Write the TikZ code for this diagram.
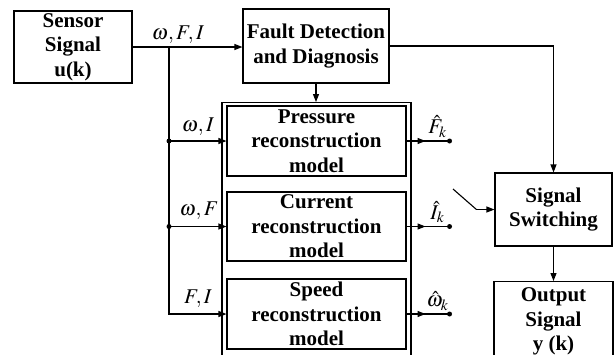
\documentclass[tikz,border=0pt]{standalone}
\usepackage{mathptmx}
\usepackage{fontspec}
\setmainfont{Liberation Serif}
\usetikzlibrary{arrows.meta}
\tikzset{
  blk/.style={draw, line width=1.1pt, inner sep=0pt, align=center,
    font=\fontsize{21}{24.5}\selectfont\bfseries},
  arr/.style={-{Triangle[length=8pt,width=6pt]}},
  lbl/.style={inner sep=1pt, font=\fontsize{21}{24}\selectfont},
  dot/.style={circle, fill, inner sep=0pt, minimum size=5pt},
}
\begin{document}
\begin{tikzpicture}[x=1pt, y=-1pt, line width=1.1pt]
\useasboundingbox (0,0) rectangle (616,354);
\clip (0,0) rectangle (616,354);

% blocks
\node[blk, minimum width=118pt, minimum height=72pt] (sensor) at (73,47) {Sensor\\Signal\\u(k)};
\node[blk, minimum width=146pt, minimum height=74pt] (fdd) at (316,46) {Fault Detection\\and Diagnosis};
\node[draw, line width=1.1pt, minimum width=189pt, minimum height=270pt, inner sep=0pt, anchor=north] (frame) at (316.5,102) {};
\node[blk, minimum width=179pt, minimum height=70pt] (press) at (316.5,141) {Pressure\\reconstruction\\model};
\node[blk, minimum width=179pt, minimum height=69pt] (curr) at (316.5,226.5) {Current\\reconstruction\\model};
\node[blk, minimum width=179pt, minimum height=70pt] (speed) at (316.5,314) {Speed\\reconstruction\\model};
\node[blk, minimum width=117pt, minimum height=73pt] (sw) at (553.5,209.5) {Signal\\Switching};
\node[blk, minimum width=119pt, minimum height=80pt, anchor=north] (out) at (553.5,281) {Output\\Signal\\y (k)};

% sensor signal distribution
\coordinate (j0) at (169,47);
\draw[arr] (sensor.east |- j0) -- (fdd.west |- j0);
\node[lbl, anchor=south] (l0) at (178,45) {$\omega,F,I$};
\draw[arr] (j0) |- (speed.west);
\coordinate (j1) at (j0 |- press.west);
\coordinate (j2) at (j0 |- curr.west);
\draw[arr] (j1) -- (press.west);
\draw[arr] (j2) -- (curr.west);
\node[dot] (d1) at (j1) {};
\node[dot] (d2) at (j2) {};
\node[lbl, anchor=south] (l1) at (198,137) {$\omega,I$};
\node[lbl, anchor=south] (l2) at (199,221) {$\omega,F$};
\node[lbl, anchor=south] (l3) at (198,309) {$F,I$};

% fault detection outputs
\draw[arr] (fdd.south) -- (fdd.south |- frame.north);
\draw[arr] (fdd.east) -| (sw.north);

% reconstructed signals
\foreach \b/\n/\t in {press/fo/{\hat{F}_k}, curr/io/{\hat{I}_k}, speed/wo/{\hat{\omega}_k}}{
  \coordinate (\n) at ([xshift=43pt]\b.east);
  \draw (\b.east) -- (\n);
  \draw[arr] (\b.east) -- ++(19,0);
  \node[dot] (\n d) at (\n) {};
  \node[lbl, anchor=south] (\n l) at ([xshift=-12pt,yshift=2pt]\n) {$\t$};
}

% switch contact
\coordinate (s0) at (453,189);
\coordinate (s1) at ([xshift=-18pt]sw.west);
\draw (s0) -- (s1);
\draw[arr] (s1) -- (sw.west);
\draw[arr] (sw.south) -- (out.north);
\end{tikzpicture}
\end{document}
